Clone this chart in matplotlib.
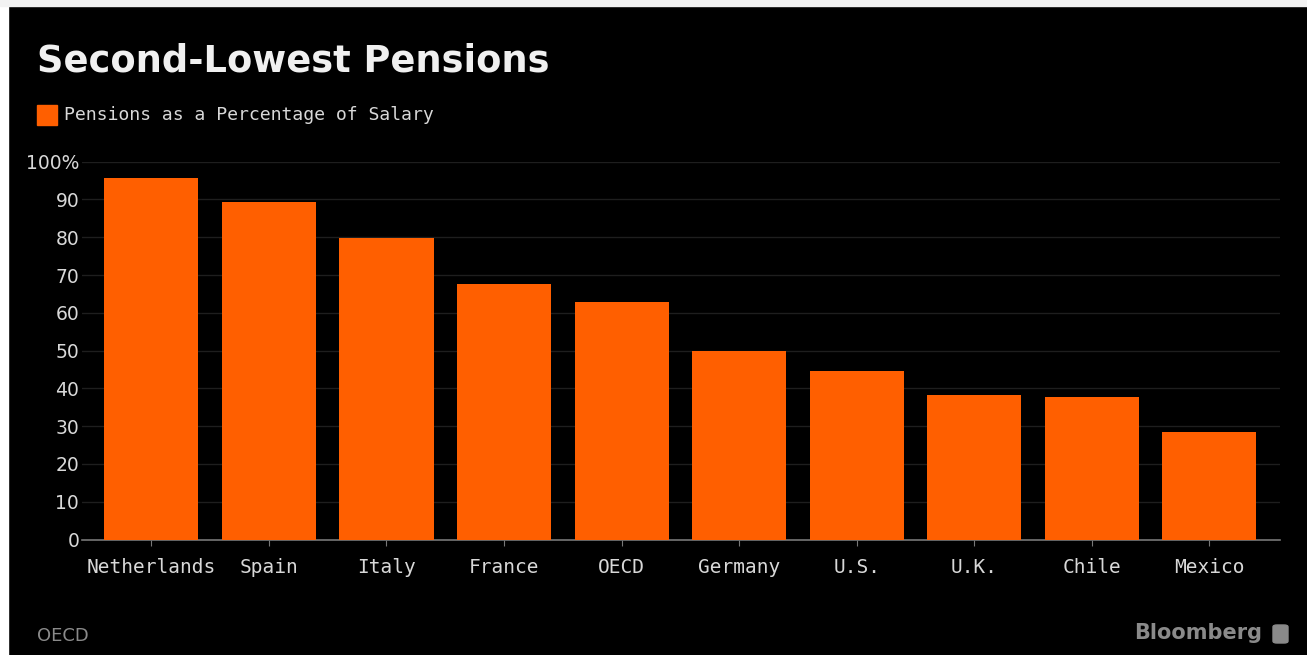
import matplotlib
matplotlib.use("Agg")
import matplotlib.pyplot as plt
from matplotlib.patches import Rectangle, FancyBboxPatch

# data
countries = ['Netherlands', 'Spain', 'Italy', 'France', 'OECD',
             'Germany', 'U.S.', 'U.K.', 'Chile', 'Mexico']
pension_pct = [95.8, 89.4, 79.7, 67.6, 62.9, 49.9, 44.7, 38.2, 37.8, 28.4]
yticks = [0, 10, 20, 30, 40, 50, 60, 70, 80, 90, 100]
ytick_labels = ['0', '10', '20', '30', '40', '50', '60', '70', '80', '90', '100%']

orange = '#ff5f00'
W, H = 1307, 655

fig = plt.figure(figsize=(W / 100, H / 100), dpi=100, facecolor='black')

# white strips along the top and left edge of the screenshot
fig.patches.append(Rectangle((0, 0), 8 / W, 1, transform=fig.transFigure,
                             color='white', zorder=0))
fig.patches.append(Rectangle((0, 1 - 6 / H), 1, 6 / H, transform=fig.transFigure,
                             color='#f2f2f2', zorder=0))

ax = fig.add_axes([82 / W, (H - 539.5) / H, (1280 - 82) / W, (539.5 - 161.7) / H])
ax.set_facecolor('black')

x = range(len(countries))
ax.bar(x, pension_pct, width=0.8, color=orange, zorder=3)

ax.set_ylim(0, 100)
ax.set_xlim(-0.59, 9.6)
ax.set_yticks(yticks)
ax.set_yticklabels(ytick_labels)
ax.set_xticks(list(x))
ax.set_xticklabels(countries)

mono = 'DejaVu Sans Mono'
for lab in ax.get_yticklabels():
    lab.set_fontfamily('DejaVu Sans')
    lab.set_fontsize(13.5)
    lab.set_color('#d8d8d8')
for lab in ax.get_xticklabels():
    lab.set_fontfamily(mono)
    lab.set_fontsize(14)
    lab.set_color('#d8d8d8')

ax.tick_params(axis='y', length=0, pad=2)
ax.tick_params(axis='x', length=4, color='#777777', pad=9)

ax.grid(axis='y', color='#1e1e1e', linewidth=1, zorder=0)
for s in ['top', 'right', 'left']:
    ax.spines[s].set_visible(False)
ax.spines['bottom'].set_color('#777777')
ax.spines['bottom'].set_linewidth(1.2)

# title and legend
fig.text(37 / W, 1 - 72 / H, 'Second-Lowest Pensions', fontsize=26.5, fontweight='bold',
         color='#f0f0f0', ha='left', va='baseline', family='DejaVu Sans')
fig.patches.append(Rectangle((37 / W, 1 - 125 / H), 20 / W, 20 / H,
                             transform=fig.transFigure, color=orange))
fig.text(64 / W, 1 - 115 / H, 'Pensions as a Percentage of Salary', fontsize=13.1,
         color='#d8d8d8', ha='left', va='center', family=mono)

# footer
fig.text(37 / W, 1 - 636 / H, 'OECD', fontsize=13, color='#8a8a8a',
         ha='left', va='center', family='DejaVu Sans')
fig.text(1262 / W, 1 - 633 / H, 'Bloomberg', fontsize=15, fontweight='bold',
         color='#8a8a8a', ha='right', va='center', family='DejaVu Sans')
fig.patches.append(FancyBboxPatch((1273 / W, 1 - 643 / H), 15 / W, 18 / H,
                                  boxstyle='round,pad=0,rounding_size=0.003',
                                  transform=fig.transFigure, color='#8a8a8a'))

fig.savefig('out.png', dpi=100, facecolor=fig.get_facecolor())
